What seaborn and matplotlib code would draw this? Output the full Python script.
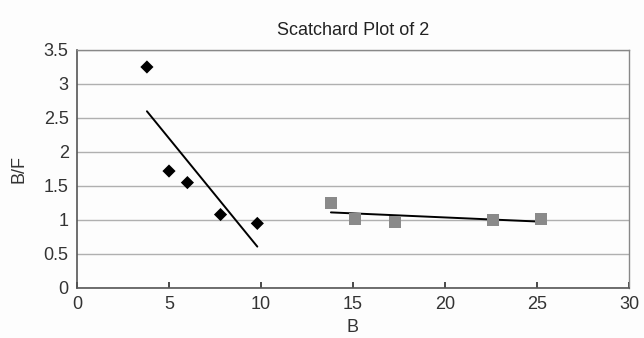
import numpy as np
import pandas as pd
import matplotlib
matplotlib.use("Agg")
import matplotlib.pyplot as plt
import seaborn as sns

# Data
b_low = [3.8, 5.0, 6.0, 7.8, 9.8]
bf_low = [3.25, 1.72, 1.55, 1.08, 0.95]
b_high = [13.8, 15.1, 17.3, 22.6, 25.2]
bf_high = [1.25, 1.02, 0.97, 1.00, 1.02]

low = pd.DataFrame({"B": b_low, "B/F": bf_low})
high = pd.DataFrame({"B": b_high, "B/F": bf_high})

sns.set_theme(style="white")
plt.rcParams["font.family"] = ["Liberation Sans", "DejaVu Sans"]

fig = plt.figure(figsize=(6.44, 3.38), dpi=100, facecolor="#fdfdfd")
ax = fig.add_axes([77 / 644, 1 - 288 / 338, 552 / 644, 238 / 338])
ax.set_facecolor("#fdfdfd")

# Scatter points
sns.scatterplot(data=low, x="B", y="B/F", marker="D", color="black",
                s=45, edgecolor="none", ax=ax, zorder=3)
sns.scatterplot(data=high, x="B", y="B/F", marker="s", color="#8a8a8a",
                s=75, edgecolor="none", ax=ax, zorder=3)

# Linear trendlines
sns.regplot(data=low, x="B", y="B/F", scatter=False, ci=None,
            color="black", line_kws={"lw": 1.4}, ax=ax)
sns.regplot(data=high, x="B", y="B/F", scatter=False, ci=None,
            color="black", line_kws={"lw": 1.4}, ax=ax)

ax.set_xlim(0, 30)
ax.set_ylim(0, 3.5)
ax.set_xticks(np.arange(0, 31, 5))
ax.set_yticks(np.arange(0, 3.51, 0.5))
ax.set_yticklabels(["0", "0.5", "1", "1.5", "2", "2.5", "3", "3.5"])
ax.yaxis.grid(True, color="#b0b0b0", lw=1)
ax.set_axisbelow(True)

for side in ["left", "bottom"]:
    ax.spines[side].set_color("#555555")
    ax.spines[side].set_linewidth(1.2)
for side in ["top", "right"]:
    ax.spines[side].set_color("#888888")
    ax.spines[side].set_linewidth(1)

ax.tick_params(axis="x", direction="in", length=4, color="#777777",
               labelsize=13, pad=6, bottom=True)
ax.tick_params(axis="y", length=0, labelsize=13, pad=6)
ax.tick_params(colors="#333333", which="both")

ax.set_title("Scatchard Plot of 2", fontsize=13, color="#222222", pad=11)
ax.set_xlabel("B", fontsize=13, color="#333333", labelpad=4)
ax.set_ylabel("B/F", fontsize=13, color="#333333", labelpad=12)

fig.savefig("out.png", dpi=100, facecolor=fig.get_facecolor())
